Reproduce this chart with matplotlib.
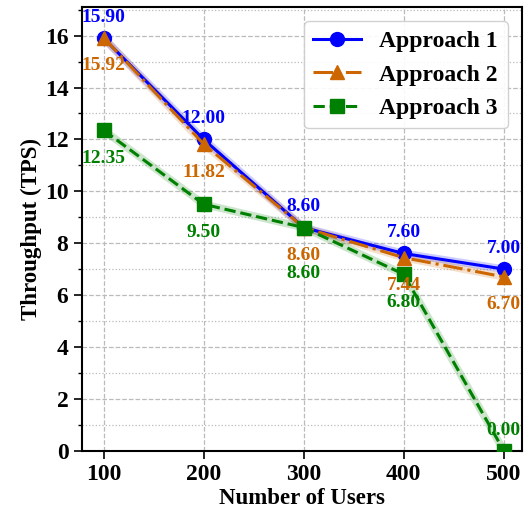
import matplotlib
matplotlib.use("Agg")
import matplotlib.pyplot as plt
from matplotlib.ticker import MultipleLocator

users = [100, 200, 300, 400, 500]
approach1 = [15.90, 12.00, 8.60, 7.60, 7.00]
approach2 = [15.92, 11.82, 8.60, 7.44, 6.70]
approach3 = [12.35, 9.50, 8.60, 6.80, 0.00]

plt.rcParams['font.family'] = ['Liberation Serif', 'DejaVu Serif']
plt.rcParams['font.weight'] = 'bold'

fig, ax = plt.subplots(figsize=(5.27, 5.12), dpi=100)

series = [
    ("Approach 1", approach1, "blue", "-", "o"),
    ("Approach 2", approach2, "#cc6600", "-.", "^"),
    ("Approach 3", approach3, "green", "--", "s"),
]

for name, vals, color, ls, mk in series:
    ax.plot(users, vals, color=color, lw=5.5, alpha=0.2, zorder=2)
    ax.plot(users, vals, color=color, ls=ls, lw=2.2, marker=mk, markersize=10,
            label=name, zorder=3)

# value labels
for x, v in zip(users, approach1):
    ax.annotate(f"{v:.2f}", (x, v), xytext=(0, 9), textcoords='offset points',
                ha='center', va='bottom', color='blue', fontsize=14, fontweight='bold')
for x, v in zip(users, approach2):
    ax.annotate(f"{v:.2f}", (x, v), xytext=(0, -14), textcoords='offset points',
                ha='center', va='top', color='#cc6600', fontsize=14, fontweight='bold')
for x, v in zip(users, approach3):
    if v == 0:
        off, va = 8, 'bottom'
    elif x == 300:
        off, va = -27, 'top'
    else:
        off, va = -14, 'top'
    ax.annotate(f"{v:.2f}", (x, v), xytext=(0, off), textcoords='offset points',
                ha='center', va=va, color='green', fontsize=14, fontweight='bold')

ax.set_xlim(78, 518)
ax.set_ylim(0, 17.1)
ax.set_xticks(users)
ax.yaxis.set_major_locator(MultipleLocator(2))
ax.yaxis.set_minor_locator(MultipleLocator(1))
ax.grid(which='major', ls='--', color='#bbbbbb', lw=0.9)
ax.grid(which='minor', axis='y', ls=':', color='#bbbbbb', lw=0.9)
ax.tick_params(axis='both', which='major', labelsize=17, length=6, width=1.2)
ax.tick_params(axis='y', which='minor', length=3, width=1)
for lab in ax.get_xticklabels() + ax.get_yticklabels():
    lab.set_fontweight('bold')
for sp in ax.spines.values():
    sp.set_linewidth(1.5)

ax.set_xlabel("Number of Users", fontsize=16.5, fontweight='bold', labelpad=2)
ax.set_ylabel("Throughput (TPS)", fontsize=16.5, fontweight='bold', labelpad=2)

leg = ax.legend(loc='upper right', prop={'weight': 'bold', 'size': 17},
                fancybox=True, framealpha=0.9, edgecolor='#cccccc',
                handlelength=2.0, borderaxespad=0.6)

fig.subplots_adjust(left=0.155, right=0.99, top=0.986, bottom=0.12)
fig.savefig("out.png", dpi=100)
